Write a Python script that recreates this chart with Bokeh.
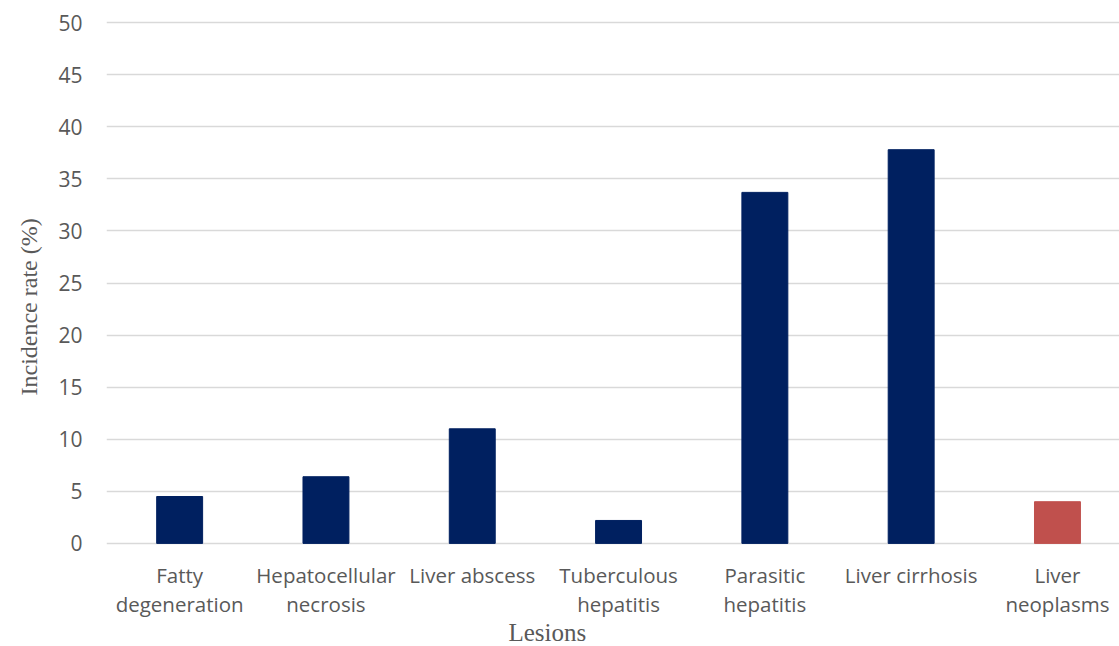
from bokeh.plotting import figure
from bokeh.models import Range1d, FixedTicker, Title, ColumnDataSource
from bokeh.embed import file_html
from bokeh.resources import INLINE

categories = ["Fatty\ndegeneration", "Hepatocellular\nnecrosis", "Liver abscess",
              "Tuberculous\nhepatitis", "Parasitic\nhepatitis", "Liver cirrhosis",
              "Liver\nneoplasms"]
incidence = [4.5, 6.4, 11.0, 2.2, 33.7, 37.8, 4.0]
y_ticks = [0, 5, 10, 15, 20, 25, 30, 35, 40, 45, 50]

NAVY = "#002060"
RED = "#C0504D"
highlight = "Liver\nneoplasms"
colors = [RED if c == highlight else NAVY for c in categories]
xs = list(range(len(categories)))

src = ColumnDataSource(dict(x=xs, top=incidence, color=colors))

p = figure(width=1119, height=646, output_backend="svg", toolbar_location=None,
           x_range=Range1d(-0.5, 6.424), y_range=Range1d(-0.3, 50.3),
           min_border_left=106, min_border_right=0, min_border_top=19,
           min_border_bottom=100)
p.outline_line_color = None
p.background_fill_color = "white"
p.border_fill_color = "white"

p.vbar(x="x", top="top", bottom=0, width=0.314, color="color", source=src)

TXT = "#595959"
p.xaxis.ticker = FixedTicker(ticks=xs)
p.xaxis.major_label_overrides = {i: c for i, c in enumerate(categories)}
p.xaxis.major_label_text_font = "Open Sans"
p.xaxis.major_label_text_font_size = "20.5px"
p.xaxis.major_label_text_color = TXT
p.xaxis.major_label_text_line_height = 1.07
p.xaxis.major_label_standoff = 8
p.xaxis.axis_line_color = None
p.xaxis.major_tick_line_color = None
p.xaxis.minor_tick_line_color = None

p.yaxis.ticker = FixedTicker(ticks=y_ticks)
p.yaxis.major_label_text_font = "Open Sans"
p.yaxis.major_label_text_font_size = "21px"
p.yaxis.major_label_text_color = TXT
p.yaxis.major_label_standoff = 18
p.yaxis.axis_line_color = None
p.yaxis.major_tick_line_color = None
p.yaxis.minor_tick_line_color = None

p.xgrid.grid_line_color = None
p.ygrid.grid_line_color = "#d9d9d9"
p.ygrid.grid_line_width = 1.5

p.add_layout(Title(text="Lesions", align="left", offset=402, standoff=-5,
                   vertical_align="top",
                   text_font="Liberation Serif", text_font_size="25px",
                   text_font_style="normal", text_color=TXT), "below")
p.add_layout(Title(text="Incidence rate (%)", align="left", offset=151, standoff=27,
                   text_font="Liberation Serif", text_font_size="24px",
                   text_font_style="normal", text_color=TXT), "left")

open("out.html", "w").write(file_html(p, INLINE))
